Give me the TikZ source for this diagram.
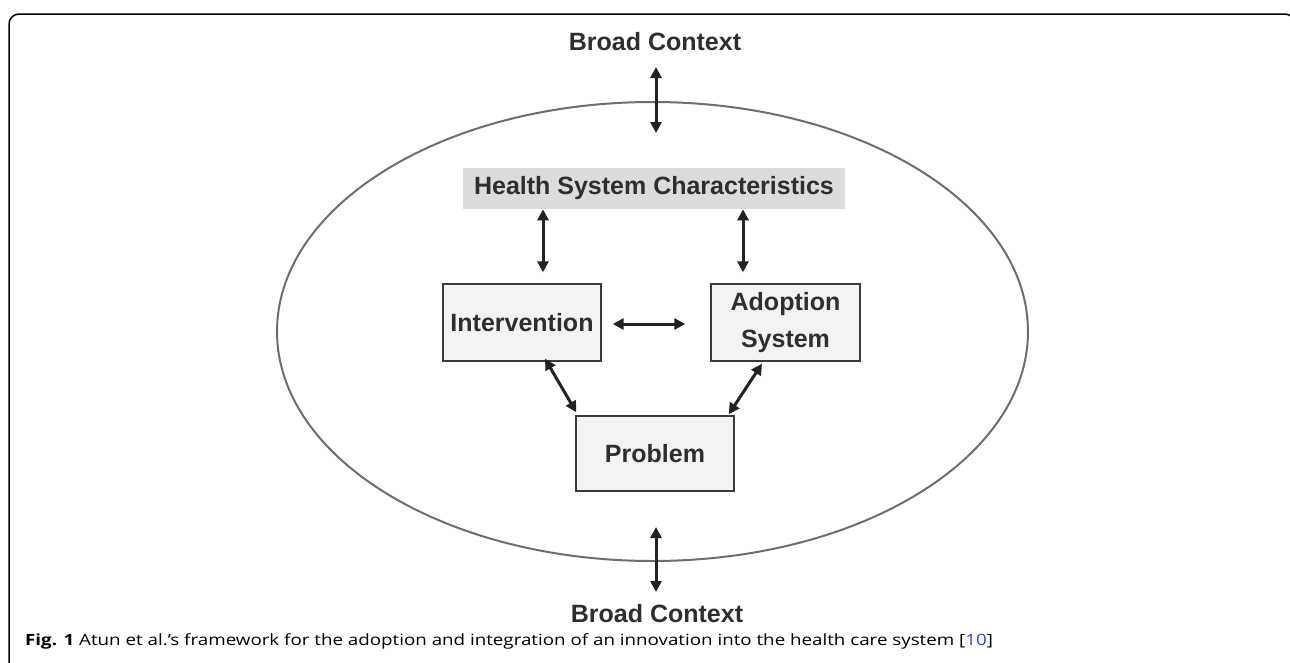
\documentclass[tikz,border=0pt]{standalone}
\usepackage{fontspec}
\setmainfont{Liberation Sans}
\newfontfamily\capfont[FakeStretch=1.21]{Open Sans}
\usetikzlibrary{arrows.meta,shapes.geometric}
\definecolor{txt}{HTML}{2E2E2E}
\definecolor{arr}{HTML}{222222}
\definecolor{boxfill}{HTML}{F3F3F3}
\definecolor{boxdraw}{HTML}{3A3A3A}
\definecolor{hscfill}{HTML}{DCDCDC}
\definecolor{ellcol}{HTML}{6E6E6E}
\definecolor{refblue}{HTML}{3344CC}
\tikzset{
  lbl/.style={font=\fontsize{25}{30}\selectfont\bfseries, text=txt, inner sep=0pt},
  boxnode/.style={draw=boxdraw, fill=boxfill, line width=1.4pt, inner sep=0pt, align=center,
    font=\fontsize{25}{37}\selectfont\bfseries, text=txt},
  dbl/.style={draw=arr, line width=3pt,
    {Triangle[length=11pt,width=11pt]}-{Triangle[length=11pt,width=11pt]}}
}
\begin{document}
\begin{tikzpicture}[x=1pt,y=-1pt]
\useasboundingbox (0,0) rectangle (1290,662);
\fill[white] (0,0) rectangle (1290,662);
\begin{scope}
\clip (0,0) rectangle (1290,662);
\draw[line width=1.5pt, black, rounded corners=10pt] (9,670) -- (9,14) -- (1295,14) -- (1295,670);
\end{scope}
% ellipse
\node[ellipse, draw=ellcol, line width=2pt, minimum width=751pt, minimum height=459pt, inner sep=0pt] (ell) at (652.5,331.5) {};
% labels
\node[lbl] (bc1) at (655,42) {Broad Context};
\node[lbl] (bc2) at (657,614) {Broad Context};
% boxes
\node[fill=hscfill, minimum width=382pt, minimum height=41pt, inner sep=0pt, font=\fontsize{25}{30}\selectfont\bfseries, text=txt] (hsc) at (654,188.5) {Health System Characteristics};
\node[boxnode, minimum width=158pt, minimum height=77pt] (int) at (522,322.5) {Intervention};
\node[boxnode, minimum width=149pt, minimum height=77pt] (ado) at (785.5,322.5) {Adoption\\System};
\node[boxnode, minimum width=158pt, minimum height=75pt] (prob) at (655,453.5) {Problem};
% coordinates for context arrows
\coordinate (t1) at (656,67);
\coordinate (t2) at (656,133);
\coordinate (b1) at (656,527);
\coordinate (b2) at (656,592);
\draw[dbl] (t1) -- (t2);
\draw[dbl] (b1) -- (b2);
% internal arrows
\draw[dbl] ([shift={(21,-74)}]int.north) -- ([shift={(21,-11)}]int.north);
\draw[dbl] ([shift={(-42.5,-74)}]ado.north) -- ([shift={(-42.5,-11)}]ado.north);
\draw[dbl] ([shift={(11,1.5)}]int.east) -- ([shift={(-25,1.5)}]ado.west);
\draw[dbl] ([shift={(23,-3)}]int.south) -- ([shift={(1,-3)}]prob.north west);
\draw[dbl] ([shift={(-23.5,2)}]ado.south) -- ([shift={(-6,-1)}]prob.north east);
% caption
\node[anchor=base west, inner sep=0pt, font=\capfont\fontsize{15.5}{18}\selectfont, text=black] (cap) at (25,645) {\textbf{Fig. 1} Atun et al.’s framework for the adoption and integration of an innovation into the health care system [\textcolor{refblue}{10}]};
\end{tikzpicture}
\end{document}
